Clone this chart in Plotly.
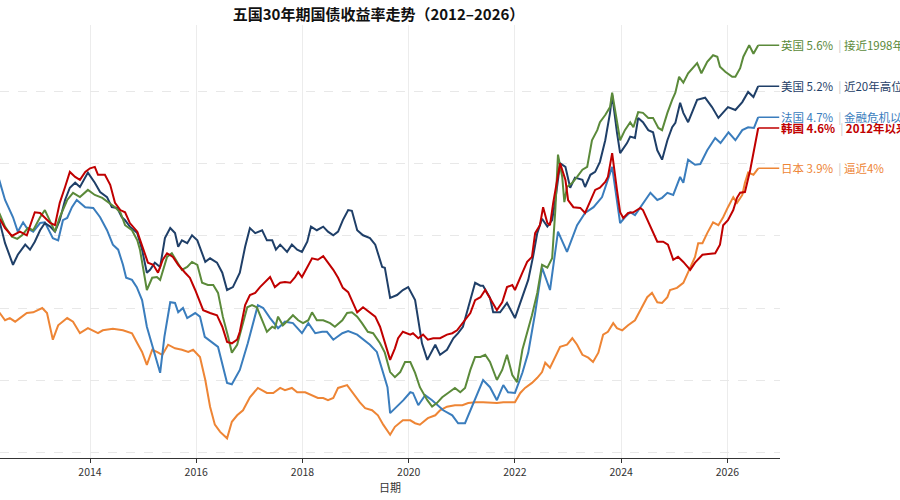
import plotly.graph_objects as go

# 30年期国债收益率（%），横轴为年份（小数年）
uk_t = [2012.29, 2012.40, 2012.53, 2012.63, 2012.72, 2012.83, 2012.93, 2013.06, 2013.15, 2013.25,
        2013.34, 2013.43, 2013.57, 2013.68, 2013.81, 2013.96, 2014.09, 2014.23, 2014.34, 2014.47,
        2014.57, 2014.66, 2014.79, 2014.89, 2014.94, 2015.07, 2015.17, 2015.26, 2015.32, 2015.45,
        2015.54, 2015.64, 2015.73, 2015.83, 2015.92, 2016.02, 2016.11, 2016.22, 2016.32, 2016.41,
        2016.50, 2016.60, 2016.67, 2016.77, 2016.86, 2016.96, 2017.05, 2017.14, 2017.24, 2017.33,
        2017.43, 2017.48, 2017.54, 2017.63, 2017.73, 2017.82, 2017.92, 2018.01, 2018.11, 2018.18,
        2018.27, 2018.39, 2018.52, 2018.61, 2018.75, 2018.84, 2018.93, 2019.03, 2019.12, 2019.23,
        2019.33, 2019.46, 2019.55, 2019.65, 2019.74, 2019.84, 2019.93, 2020.03, 2020.12, 2020.21,
        2020.35, 2020.44, 2020.53, 2020.63, 2020.74, 2020.87, 2020.97, 2021.06, 2021.16, 2021.25,
        2021.35, 2021.44, 2021.53, 2021.66, 2021.76, 2021.85, 2021.95, 2022.04, 2022.14, 2022.23,
        2022.32, 2022.42, 2022.51, 2022.61, 2022.70, 2022.76, 2022.81, 2022.89, 2022.93, 2022.98,
        2023.08, 2023.17, 2023.27, 2023.36, 2023.45, 2023.55, 2023.60, 2023.70, 2023.79, 2023.83,
        2023.92, 2023.98, 2024.07, 2024.17, 2024.23, 2024.32, 2024.41, 2024.51, 2024.60, 2024.70,
        2024.77, 2024.87, 2024.96, 2025.02, 2025.09, 2025.17, 2025.26, 2025.43, 2025.51, 2025.62,
        2025.73, 2025.81, 2025.86, 2025.96, 2026.09, 2026.15, 2026.24, 2026.30, 2026.41, 2026.49,
        2026.58]
uk_v = [3.32, 3.13, 2.99, 2.96, 3.01, 3.11, 3.08, 3.26, 3.36, 3.19,
        3.06, 3.26, 3.50, 3.60, 3.54, 3.64, 3.57, 3.53, 3.47, 3.40,
        3.33, 3.15, 3.08, 2.94, 2.81, 2.25, 2.42, 2.43, 2.39, 2.71,
        2.76, 2.64, 2.53, 2.57, 2.64, 2.60, 2.35, 2.32, 2.32, 2.21,
        1.88, 1.60, 1.38, 1.49, 1.74, 2.01, 2.04, 2.01, 1.83, 1.67,
        1.74, 1.72, 1.88, 1.76, 1.83, 1.90, 1.83, 1.79, 1.83, 1.94,
        1.83, 1.83, 1.79, 1.74, 1.83, 1.93, 1.94, 1.88, 1.79, 1.67,
        1.65, 1.51, 1.38, 1.11, 1.04, 1.11, 1.25, 1.25, 1.10, 0.90,
        0.72, 0.63, 0.68, 0.76, 0.82, 0.89, 0.83, 0.89, 1.14, 1.32,
        1.32, 1.35, 1.25, 1.00, 1.14, 1.35, 1.07, 0.97, 1.42, 1.65,
        1.90, 2.21, 2.60, 2.56, 2.69, 3.36, 4.13, 3.82, 3.47, 3.68,
        3.74, 3.82, 3.92, 3.96, 4.33, 4.47, 4.58, 4.68, 4.79, 4.99,
        4.61, 4.33, 4.47, 4.58, 4.51, 4.72, 4.71, 4.64, 4.64, 4.50,
        4.47, 4.71, 4.89, 4.99, 5.21, 5.13, 5.26, 5.40, 5.26, 5.42,
        5.51, 5.49, 5.35, 5.28, 5.21, 5.21, 5.33, 5.49, 5.65, 5.53,
        5.65]

us_t = [2012.29, 2012.40, 2012.55, 2012.64, 2012.78, 2012.87, 2012.96, 2013.06, 2013.15, 2013.25,
        2013.34, 2013.43, 2013.53, 2013.62, 2013.72, 2013.81, 2013.96, 2014.09, 2014.19, 2014.32,
        2014.41, 2014.51, 2014.60, 2014.66, 2014.75, 2014.89, 2014.98, 2015.07, 2015.13, 2015.22,
        2015.32, 2015.41, 2015.51, 2015.60, 2015.66, 2015.73, 2015.83, 2015.92, 2016.02, 2016.07,
        2016.17, 2016.26, 2016.39, 2016.49, 2016.58, 2016.69, 2016.82, 2016.92, 2017.01, 2017.11,
        2017.24, 2017.33, 2017.43, 2017.50, 2017.58, 2017.71, 2017.80, 2017.90, 2017.99, 2018.09,
        2018.16, 2018.27, 2018.39, 2018.48, 2018.58, 2018.67, 2018.76, 2018.86, 2018.93, 2019.03,
        2019.14, 2019.27, 2019.37, 2019.50, 2019.55, 2019.65, 2019.78, 2019.89, 2019.99, 2020.12,
        2020.25, 2020.35, 2020.44, 2020.50, 2020.59, 2020.72, 2020.84, 2020.93, 2021.02, 2021.12,
        2021.25, 2021.35, 2021.40, 2021.53, 2021.59, 2021.72, 2021.85, 2022.00, 2022.14, 2022.25,
        2022.34, 2022.42, 2022.51, 2022.61, 2022.70, 2022.76, 2022.85, 2022.95, 2023.04, 2023.13,
        2023.27, 2023.32, 2023.42, 2023.51, 2023.60, 2023.70, 2023.79, 2023.83, 2023.92, 2023.98,
        2024.11, 2024.17, 2024.26, 2024.32, 2024.41, 2024.51, 2024.60, 2024.68, 2024.77, 2024.87,
        2024.96, 2025.02, 2025.11, 2025.17, 2025.26, 2025.43, 2025.58, 2025.71, 2025.83, 2025.92,
        2026.01, 2026.15, 2026.28, 2026.39, 2026.49, 2026.58]
us_v = [3.22, 2.90, 2.60, 2.74, 2.88, 2.81, 2.92, 3.08, 3.18, 3.13,
        3.06, 3.22, 3.50, 3.67, 3.74, 3.68, 3.88, 3.74, 3.61, 3.54,
        3.40, 3.39, 3.26, 3.22, 3.13, 3.04, 2.81, 2.49, 2.53, 2.63,
        2.57, 2.97, 3.11, 3.04, 2.85, 2.94, 2.90, 3.01, 2.94, 2.83,
        2.64, 2.69, 2.63, 2.49, 2.25, 2.29, 2.49, 2.85, 3.11, 3.04,
        3.08, 2.94, 2.94, 2.81, 2.88, 2.78, 2.88, 2.81, 2.78, 2.92,
        3.13, 3.08, 3.13, 3.06, 3.01, 3.06, 3.22, 3.36, 3.35, 3.08,
        3.01, 2.97, 2.88, 2.57, 2.56, 2.14, 2.18, 2.25, 2.29, 2.11,
        1.51, 1.28, 1.42, 1.49, 1.35, 1.42, 1.58, 1.65, 1.74, 2.01,
        2.35, 2.31, 2.31, 2.14, 1.94, 1.94, 2.07, 1.86, 2.15, 2.39,
        2.71, 3.04, 3.24, 3.13, 3.22, 3.50, 4.01, 3.96, 3.67, 3.81,
        3.78, 3.68, 3.85, 3.89, 4.03, 4.33, 4.71, 4.96, 4.44, 4.15,
        4.29, 4.38, 4.36, 4.64, 4.58, 4.47, 4.44, 4.19, 4.06, 4.33,
        4.51, 4.57, 4.85, 4.71, 4.58, 4.89, 4.92, 4.79, 4.64, 4.71,
        4.79, 4.75, 4.86, 5.00, 4.93, 5.08]

fr_t = [2012.29, 2012.40, 2012.55, 2012.64, 2012.74, 2012.81, 2012.93, 2013.06, 2013.15, 2013.30,
        2013.40, 2013.49, 2013.57, 2013.66, 2013.75, 2013.91, 2014.06, 2014.19, 2014.32, 2014.43,
        2014.53, 2014.62, 2014.68, 2014.79, 2014.88, 2014.98, 2015.07, 2015.19, 2015.32, 2015.40,
        2015.51, 2015.60, 2015.66, 2015.75, 2015.83, 2015.98, 2016.07, 2016.16, 2016.31, 2016.41,
        2016.58, 2016.67, 2016.82, 2016.97, 2017.16, 2017.26, 2017.39, 2017.54, 2017.67, 2017.82,
        2017.99, 2018.11, 2018.24, 2018.37, 2018.46, 2018.58, 2018.75, 2018.86, 2019.03, 2019.14,
        2019.27, 2019.40, 2019.50, 2019.60, 2019.65, 2019.78, 2019.90, 2020.03, 2020.08, 2020.18,
        2020.31, 2020.44, 2020.65, 2020.82, 2020.93, 2021.06, 2021.16, 2021.29, 2021.40, 2021.53,
        2021.66, 2021.78, 2021.87, 2022.00, 2022.14, 2022.25, 2022.38, 2022.51, 2022.66, 2022.81,
        2022.98, 2023.17, 2023.32, 2023.48, 2023.64, 2023.83, 2023.98, 2024.07, 2024.17, 2024.26,
        2024.41, 2024.55, 2024.68, 2024.77, 2024.87, 2024.98, 2025.11, 2025.17, 2025.26, 2025.39,
        2025.49, 2025.62, 2025.77, 2025.87, 2026.02, 2026.15, 2026.28, 2026.39, 2026.50, 2026.58]
fr_v = [3.78, 3.50, 3.26, 3.06, 3.19, 3.11, 3.06, 3.18, 3.19, 2.97,
        2.94, 3.22, 3.25, 3.40, 3.50, 3.40, 3.39, 3.26, 3.08, 2.88,
        2.81, 2.60, 2.42, 2.39, 2.29, 2.11, 1.74, 1.42, 1.10, 1.60,
        2.08, 2.07, 1.94, 2.00, 1.86, 1.93, 1.88, 1.60, 1.51, 1.46,
        0.96, 0.94, 1.14, 1.51, 2.04, 2.00, 1.86, 1.72, 1.81, 1.79,
        1.65, 1.79, 1.65, 1.67, 1.67, 1.56, 1.65, 1.68, 1.63, 1.56,
        1.49, 1.39, 1.14, 0.90, 0.54, 0.63, 0.72, 0.83, 0.82, 0.65,
        0.79, 0.72, 0.58, 0.51, 0.40, 0.40, 0.58, 0.82, 1.00, 0.90,
        0.72, 0.93, 0.83, 0.82, 1.10, 1.38, 1.93, 2.56, 2.25, 3.06,
        2.78, 3.15, 3.32, 3.40, 3.54, 3.96, 3.18, 3.26, 3.33, 3.29,
        3.46, 3.60, 3.50, 3.53, 3.60, 3.57, 3.82, 3.74, 4.06, 3.99,
        4.00, 4.19, 4.36, 4.29, 4.44, 4.33, 4.47, 4.51, 4.50, 4.65]

kr_t = [2012.29, 2012.40, 2012.53, 2012.68, 2012.81, 2012.96, 2013.06, 2013.15, 2013.25, 2013.34,
        2013.43, 2013.53, 2013.62, 2013.72, 2013.81, 2013.91, 2014.00, 2014.09, 2014.15, 2014.28,
        2014.38, 2014.47, 2014.57, 2014.66, 2014.75, 2014.89, 2015.00, 2015.09, 2015.19, 2015.28,
        2015.37, 2015.45, 2015.56, 2015.66, 2015.79, 2015.88, 2015.98, 2016.13, 2016.26, 2016.39,
        2016.49, 2016.58, 2016.67, 2016.77, 2016.82, 2016.92, 2017.01, 2017.11, 2017.20, 2017.29,
        2017.39, 2017.48, 2017.58, 2017.67, 2017.77, 2017.86, 2017.92, 2017.99, 2018.09, 2018.18,
        2018.29, 2018.39, 2018.48, 2018.58, 2018.67, 2018.76, 2018.86, 2018.95, 2019.03, 2019.14,
        2019.27, 2019.37, 2019.46, 2019.55, 2019.65, 2019.74, 2019.80, 2019.89, 2020.03, 2020.08,
        2020.18, 2020.27, 2020.36, 2020.46, 2020.59, 2020.72, 2020.82, 2020.91, 2021.02, 2021.16,
        2021.25, 2021.35, 2021.44, 2021.53, 2021.66, 2021.76, 2021.85, 2021.95, 2022.00, 2022.14,
        2022.23, 2022.32, 2022.38, 2022.47, 2022.53, 2022.61, 2022.66, 2022.72, 2022.79, 2022.85,
        2022.95, 2023.00, 2023.10, 2023.23, 2023.32, 2023.42, 2023.51, 2023.60, 2023.70, 2023.75,
        2023.83, 2023.92, 2023.98, 2024.04, 2024.13, 2024.23, 2024.36, 2024.41, 2024.55, 2024.68,
        2024.79, 2024.88, 2024.98, 2025.07, 2025.17, 2025.30, 2025.39, 2025.53, 2025.64, 2025.77,
        2025.86, 2025.92, 2026.01, 2026.11, 2026.18, 2026.24, 2026.33, 2026.43, 2026.50, 2026.58]
kr_v = [3.25, 3.11, 3.00, 3.06, 3.01, 3.33, 3.32, 3.26, 3.18, 3.15,
        3.46, 3.68, 3.89, 3.82, 3.78, 3.89, 3.94, 3.96, 3.85, 3.85,
        3.71, 3.46, 3.36, 3.33, 3.18, 3.06, 2.81, 2.63, 2.60, 2.49,
        2.67, 2.76, 2.71, 2.60, 2.49, 2.42, 2.25, 1.97, 1.93, 1.90,
        1.74, 1.53, 1.51, 1.56, 1.67, 2.04, 2.18, 2.21, 2.29, 2.35,
        2.43, 2.29, 2.35, 2.36, 2.35, 2.43, 2.50, 2.43, 2.56, 2.69,
        2.67, 2.72, 2.63, 2.53, 2.42, 2.28, 2.22, 2.07, 1.94, 2.01,
        1.94, 1.88, 1.74, 1.51, 1.28, 1.44, 1.58, 1.67, 1.63, 1.65,
        1.58, 1.63, 1.56, 1.58, 1.58, 1.63, 1.65, 1.69, 1.79, 1.93,
        2.11, 2.15, 2.25, 2.14, 1.97, 2.08, 2.29, 2.32, 2.25, 2.49,
        2.64, 2.71, 3.04, 3.15, 3.40, 3.18, 3.15, 3.46, 3.74, 4.01,
        3.78, 3.50, 3.40, 3.39, 3.32, 3.50, 3.64, 3.67, 3.75, 3.82,
        4.15, 3.64, 3.33, 3.25, 3.32, 3.33, 3.39, 3.36, 3.13, 2.92,
        2.92, 2.88, 2.67, 2.71, 2.64, 2.53, 2.63, 2.74, 2.75, 2.76,
        2.88, 3.15, 3.22, 3.36, 3.53, 3.60, 3.61, 3.92, 4.19, 4.50]

jp_t = [2012.29, 2012.40, 2012.49, 2012.59, 2012.68, 2012.81, 2012.93, 2013.10, 2013.19, 2013.25,
        2013.30, 2013.40, 2013.57, 2013.68, 2013.81, 2013.96, 2014.15, 2014.24, 2014.43, 2014.62,
        2014.79, 2014.89, 2014.98, 2015.07, 2015.17, 2015.26, 2015.36, 2015.47, 2015.60, 2015.73,
        2015.85, 2015.94, 2016.07, 2016.17, 2016.26, 2016.35, 2016.45, 2016.58, 2016.67, 2016.77,
        2016.88, 2017.01, 2017.16, 2017.33, 2017.45, 2017.58, 2017.67, 2017.80, 2017.90, 2018.05,
        2018.18, 2018.29, 2018.39, 2018.48, 2018.58, 2018.67, 2018.84, 2018.95, 2019.08, 2019.18,
        2019.31, 2019.42, 2019.52, 2019.65, 2019.74, 2019.89, 2020.03, 2020.12, 2020.21, 2020.36,
        2020.50, 2020.59, 2020.72, 2020.87, 2021.01, 2021.12, 2021.25, 2021.40, 2021.53, 2021.66,
        2021.78, 2021.91, 2022.00, 2022.10, 2022.19, 2022.32, 2022.42, 2022.51, 2022.57, 2022.66,
        2022.76, 2022.85, 2022.98, 2023.08, 2023.17, 2023.27, 2023.38, 2023.47, 2023.57, 2023.66,
        2023.75, 2023.85, 2023.92, 2024.02, 2024.13, 2024.26, 2024.36, 2024.49, 2024.58, 2024.68,
        2024.77, 2024.87, 2024.92, 2025.05, 2025.17, 2025.26, 2025.39, 2025.45, 2025.53, 2025.62,
        2025.73, 2025.83, 2025.92, 2026.01, 2026.11, 2026.18, 2026.28, 2026.33, 2026.39, 2026.49,
        2026.58]
jp_v = [1.94, 1.83, 1.86, 1.81, 1.86, 1.93, 1.94, 2.00, 1.93, 1.74,
        1.56, 1.76, 1.86, 1.81, 1.65, 1.72, 1.65, 1.69, 1.71, 1.69,
        1.65, 1.51, 1.39, 1.21, 1.42, 1.39, 1.35, 1.49, 1.44, 1.42,
        1.39, 1.42, 1.32, 1.00, 0.63, 0.38, 0.28, 0.19, 0.42, 0.51,
        0.58, 0.76, 0.89, 0.82, 0.82, 0.89, 0.86, 0.89, 0.83, 0.83,
        0.79, 0.75, 0.75, 0.72, 0.75, 0.89, 0.93, 0.82, 0.69, 0.61,
        0.58, 0.51, 0.38, 0.24, 0.35, 0.44, 0.44, 0.40, 0.38, 0.47,
        0.51, 0.58, 0.63, 0.65, 0.65, 0.68, 0.69, 0.69, 0.68, 0.68,
        0.69, 0.69, 0.69, 0.82, 0.89, 0.96, 1.03, 1.11, 1.24, 1.17,
        1.32, 1.46, 1.49, 1.58, 1.49, 1.35, 1.31, 1.25, 1.38, 1.63,
        1.67, 1.79, 1.72, 1.69, 1.76, 1.83, 1.97, 2.15, 2.21, 2.08,
        2.07, 2.15, 2.25, 2.28, 2.35, 2.50, 2.71, 2.90, 2.90, 3.04,
        3.19, 3.15, 3.26, 3.40, 3.54, 3.46, 3.57, 3.74, 3.88, 3.85,
        3.94]

# 末端标注
labels = ["英国 5.6%", "美国 5.2%", "法国 4.7%", "韩国 4.6%", "日本 3.9%"]
notes = ["接近1998年以来高位", "近20年高位", "金融危机以来新高", "2012年以来新高", "逼近4%"]

FONT = "Noto Sans CJK SC, Noto Sans, sans-serif"
SEP = "&nbsp;&nbsp;<span style='color:#c8c8c8'>|</span>&nbsp;"

series = [
    ("日本", jp_t, jp_v, "#ee8535", labels[4], notes[4], False),
    ("法国", fr_t, fr_v, "#3a7dbd", labels[2], notes[2], False),
    ("美国", us_t, us_v, "#1f3f68", labels[1], notes[1], False),
    ("英国", uk_t, uk_v, "#5b8a3a", labels[0], notes[0], False),
    ("韩国", kr_t, kr_v, "#c00000", labels[3], notes[3], True),
]

fig = go.Figure()
annotations = []
for name, t, v, color, label, note, bold in series:
    fig.add_trace(go.Scatter(x=t, y=v, name=name, mode="lines",
                             line=dict(color=color, width=2)))
    if bold:
        txt = f"<b>{label}</b>{SEP}<b>{note}</b>"
    else:
        txt = f"{label}{SEP}{note}"
    annotations.append(dict(
        x=t[-1], y=v[-1], xref="x", yref="y",
        text=txt, showarrow=True, arrowhead=0, arrowwidth=1.5,
        arrowcolor=color, ax=21, ay=0, xanchor="left", yanchor="middle",
        font=dict(size=11.5, color=color, family=FONT),
    ))

fig.update_layout(
    width=900, height=500,
    title=dict(text="<b>五国30年期国债收益率走势（2012–2026）</b>",
               x=0.4206, xanchor="center", y=0.97, yanchor="middle",
               font=dict(size=15, color="#111", family=FONT)),
    font=dict(family=FONT, size=11, color="#333"),
    showlegend=False,
    plot_bgcolor="white", paper_bgcolor="white",
    margin=dict(l=0, r=120, t=25, b=42),
    annotations=annotations,
    xaxis=dict(range=[2012.305, 2026.99], tickvals=list(range(2014, 2027, 2)),
               tickformat="d", showgrid=True, gridcolor="#ececec",
               ticks="outside", ticklen=4, tickcolor="#333",
               showline=True, linecolor="#333", linewidth=1.2, zeroline=False,
               tickfont=dict(size=10.5, color="#333"),
               title=dict(text="日期", font=dict(size=11, color="#333"), standoff=6)),
    yaxis=dict(range=[-0.083, 5.93], tick0=0, dtick=1, showticklabels=False,
               showgrid=True, gridcolor="#e8e8e8", griddash="dash",
               zeroline=False, showline=False),
)

# 去掉页面默认的 8px 边距，让图从窗口左上角开始
fig.write_html("out.html", config={"displayModeBar": False},
               post_script="document.body.style.margin='0';")
